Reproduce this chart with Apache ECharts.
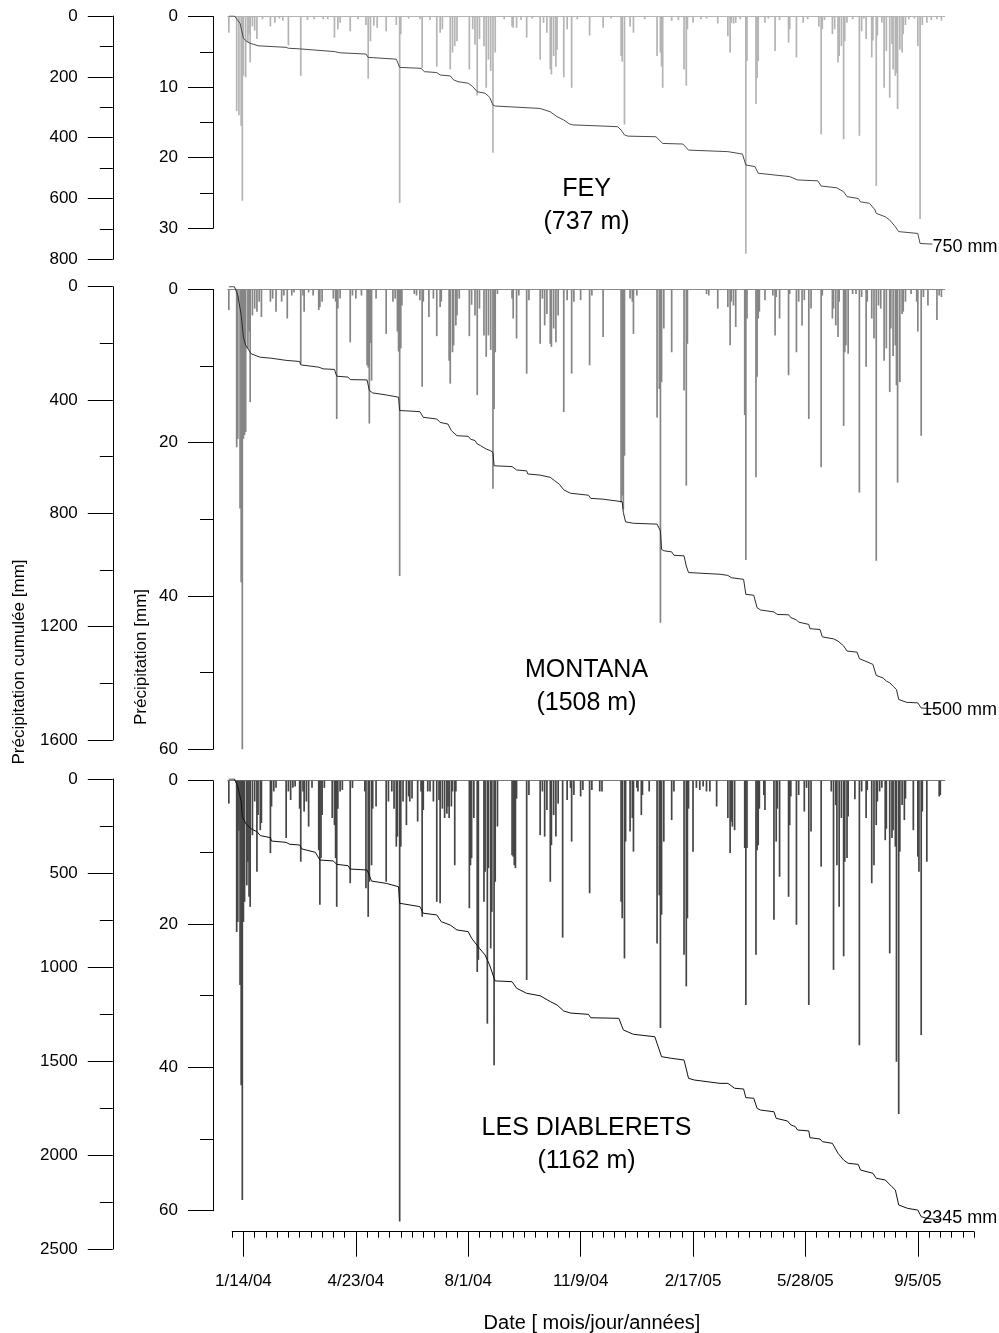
<!DOCTYPE html>
<html>
<head>
<meta charset="utf-8">
<script src="https://cdn.jsdelivr.net/npm/echarts@6/dist/echarts.min.js"></script>
<style>html,body{margin:0;padding:0;background:#fff}#c{width:999px;height:1333px}</style>
</head>
<body>
<div id="c"></div>
<script>
// Day index = days since 2004-01-01. Values in mm.
const feyBars = [[0,2.3],[7,13.4],[9,14.0],[11,15.5],[12,26.1],[13,8.4],[15,8.6],[17,3.6],[18,2.5],[19,6.5],[21,1.4],[23,2.0],[25,3.2],[30,0.4],[37,1.4],[41,0.9],[45,0.3],[48,0.6],[53,4.1],[64,8.4],[70,0.5],[76,0.4],[84,0.4],[88,0.4],[94,3.0],[97,1.8],[99,0.9],[108,2.1],[115,0.4],[122,1.2],[124,8.8],[126,3.5],[129,1.3],[132,1.6],[140,2.1],[149,1.2],[152,26.4],[153,2.5],[160,0.3],[170,0.4],[172,7.3],[179,0.5],[185,7.1],[188,2.3],[190,1.8],[197,7.5],[199,5.1],[201,4.2],[203,3.5],[214,7.5],[217,1.8],[219,4.0],[221,11.2],[223,3.2],[227,4.2],[229,10.1],[231,6.1],[233,7.7],[235,19.3],[237,5.1],[245,0.4],[252,1.4],[253,1.6],[256,1.6],[260,0.5],[265,3.0],[270,0.3],[277,6.1],[280,0.9],[283,2.3],[286,7.5],[287,8.2],[289,5.6],[291,7.1],[292,4.7],[298,8.6],[301,1.8],[305,10.1],[310,0.4],[321,2.7],[333,1.6],[340,0.3],[349,5.6],[350,6.4],[352,15.3],[357,1.4],[360,2.3],[370,0.4],[381,5.6],[384,5.1],[385,7.1],[386,10.1],[394,0.6],[400,0.5],[405,7.5],[407,9.8],[408,1.8],[413,0.9],[420,0.4],[425,0.3],[435,1.0],[444,2.8],[446,5.1],[447,0.9],[449,1.0],[451,0.9],[455,0.4],[460,33.6],[461,6.3],[469,12.4],[470,8.7],[471,6.3],[477,0.9],[480,0.3],[486,4.9],[490,0.5],[498,3.7],[499,1.8],[505,5.8],[511,0.9],[515,0.4],[525,1.4],[527,16.7],[528,1.8],[530,0.5],[537,2.5],[539,1.8],[542,6.5],[543,5.6],[545,4.2],[547,17.4],[548,3.5],[550,0.9],[555,0.4],[561,16.9],[563,2.1],[565,0.3],[567,3.2],[572,5.8],[573,3.4],[576,24.0],[577,2.7],[581,0.9],[583,10.1],[585,4.9],[588,11.5],[590,3.9],[591,7.5],[593,8.4],[594,8.0],[595,13.1],[597,4.7],[599,5.1],[600,2.5],[602,1.2],[605,0.4],[610,0.3],[613,4.2],[615,28.7],[617,1.2],[621,0.9],[625,0.5],[630,0.4],[634,0.6]];
const feyCumul = [[0,0],[5,0],[10,24],[13,73],[16,84],[19,90],[22,93],[26,98],[51,103],[53,106],[63,108],[64,114],[94,117],[99,121],[122,125],[124,136],[149,142],[152,169],[171,172],[174,183],[185,186],[188,194],[197,197],[200,210],[204,216],[213,221],[217,232],[221,249],[228,254],[232,267],[235,293],[237,296],[277,304],[286,315],[292,331],[298,342],[303,355],[306,358],[333,362],[346,364],[349,375],[352,391],[355,395],[380,397],[386,419],[404,421],[409,441],[444,446],[457,454],[460,490],[468,495],[471,517],[486,523],[499,528],[506,539],[524,542],[527,559],[541,565],[547,578],[550,594],[560,600],[562,611],[570,616],[575,638],[576,649],[584,660],[588,671],[593,693],[596,709],[613,715],[615,748],[626,750]];

const montanaBars = [[0,2.7],[7,20.6],[8,19.5],[10,28.6],[11,38.2],[12,60],[13,19.5],[14,19.0],[15,18.6],[17,7.7],[18,5.5],[19,14.7],[21,3.4],[23,2.5],[25,2.9],[27,1.6],[29,3.6],[37,1.6],[39,1.2],[42,2.9],[47,1.6],[49,0.8],[52,3.8],[56,0.8],[58,0.4],[64,9.7],[66,0.8],[67,2.9],[71,0.4],[75,0.8],[80,2.7],[81,2.3],[83,1.6],[93,1.2],[95,1.6],[96,16.9],[97,2.5],[99,1.2],[108,6.9],[110,0.8],[113,1.2],[118,0.8],[123,9.9],[124,10.2],[125,17.5],[126,7.0],[127,11.9],[131,1.2],[140,5.8],[146,1.6],[148,1.2],[150,5.5],[151,8.1],[152,37.4],[153,7.7],[154,2.1],[165,0.6],[167,0.8],[170,1.4],[172,12.7],[173,1.6],[178,3.6],[182,1.2],[185,6.1],[188,2.3],[189,1.6],[196,9.3],[197,12.3],[199,8.2],[200,7.3],[202,4.7],[203,3.4],[205,1.2],[214,6.1],[216,2.0],[219,3.4],[221,13.8],[223,2.5],[227,6.0],[229,8.8],[231,6.0],[233,7.9],[235,26.0],[236,15.6],[237,8.2],[239,0.6],[252,1.2],[253,3.8],[256,6.4],[258,0.8],[265,11.0],[267,1.4],[277,7.1],[279,1.2],[281,4.7],[283,3.2],[286,7.1],[287,7.5],[289,5.1],[291,6.9],[293,3.4],[298,16.0],[301,1.4],[305,11.0],[307,1.6],[313,1.4],[321,9.9],[323,0.8],[333,6.2],[349,27.8],[350,26.9],[351,28.7],[352,21.7],[357,1.2],[359,1.6],[360,5.8],[363,0.8],[381,16.7],[383,13.0],[384,43.5],[385,12.1],[387,5.1],[394,8.2],[405,13.2],[407,25.6],[408,7.1],[425,0.6],[427,0.8],[435,2.5],[444,2.3],[446,7.3],[447,1.6],[449,2.1],[451,4.9],[459,16.4],[460,35.3],[461,3.8],[469,24.5],[470,11.4],[471,3.8],[472,2.9],[477,1.4],[484,0.8],[486,6.0],[487,1.0],[490,3.8],[498,11.2],[499,0.6],[505,8.2],[507,1.6],[510,4.7],[512,1.4],[516,16.9],[518,2.5],[527,23.2],[528,0.8],[537,3.8],[538,2.5],[540,4.7],[542,6.2],[543,1.6],[547,17.8],[548,8.2],[549,7.3],[551,8.4],[555,0.6],[558,0.6],[561,26.5],[563,1.0],[567,10.1],[568,1.6],[572,3.8],[574,6.4],[576,35.4],[578,2.1],[580,2.5],[583,9.3],[585,7.7],[588,13.4],[589,5.1],[591,8.7],[593,7.3],[594,12.5],[595,25.2],[597,12.1],[599,3.2],[600,2.9],[602,1.6],[607,0.6],[612,1.6],[613,5.5],[616,19.1],[618,1.0],[622,2.1],[630,4.0],[632,0.8],[634,1.0]];
const montanaCumul = [[0,0],[5,0],[8,30],[11,101],[13,178],[15,207],[18,225],[20,237],[28,249],[37,252],[51,260],[63,264],[64,276],[80,284],[84,290],[94,292],[96,316],[106,319],[108,328],[123,329],[125,366],[128,375],[140,382],[151,390],[152,437],[170,441],[173,461],[185,467],[188,479],[195,485],[198,508],[203,526],[213,528],[215,538],[219,543],[221,555],[224,561],[229,573],[233,579],[235,585],[236,632],[252,635],[256,647],[265,650],[266,661],[277,665],[286,673],[290,685],[294,697],[298,717],[304,729],[320,736],[322,747],[333,750],[334,756],[350,759],[351,797],[353,830],[360,835],[381,838],[384,862],[385,927],[387,932],[394,936],[396,948],[405,950],[407,986],[409,1009],[437,1015],[444,1019],[447,1027],[458,1033],[460,1086],[467,1089],[470,1133],[473,1141],[485,1148],[488,1157],[498,1158],[500,1168],[505,1176],[507,1184],[516,1192],[517,1207],[526,1210],[528,1236],[538,1243],[542,1251],[547,1268],[550,1286],[559,1290],[561,1313],[566,1321],[573,1333],[576,1372],[582,1381],[585,1392],[588,1398],[591,1410],[594,1422],[596,1457],[603,1467],[613,1469],[616,1487],[630,1490]];

const diableretsBars = [[0,3.2],[7,21.1],[8,19.7],[9,7.0],[10,28.5],[11,42.5],[12,58.5],[13,19.7],[14,16.9],[16,14.6],[17,11.3],[18,16.2],[19,17.6],[21,7.6],[23,2.9],[25,12.7],[26,4.8],[28,6.9],[29,5.9],[37,10.1],[38,3.6],[40,1.5],[42,1.0],[51,8.0],[53,1.5],[55,2.7],[57,1.0],[59,0.8],[63,3.9],[64,11.3],[66,1.5],[67,4.3],[69,2.9],[71,6.4],[74,1.0],[80,9.7],[81,17.3],[82,10.8],[83,4.8],[85,1.0],[92,5.2],[94,6.2],[95,10.8],[96,17.6],[97,3.9],[99,1.5],[101,1.3],[108,14.3],[110,1.0],[121,1.5],[122,15.0],[124,19.0],[125,14.1],[127,11.8],[128,3.9],[131,3.6],[140,14.1],[142,2.9],[145,1.5],[147,3.9],[149,9.2],[150,7.8],[152,61.5],[153,9.2],[155,2.9],[158,6.2],[160,2.2],[161,2.9],[163,2.5],[168,5.7],[171,1.5],[172,19.0],[173,4.1],[177,1.5],[179,1.5],[182,2.9],[185,16.9],[187,2.7],[188,17.1],[190,3.9],[192,5.2],[194,4.6],[195,3.6],[196,5.2],[198,3.6],[199,1.5],[201,11.8],[202,1.5],[214,17.8],[215,11.8],[216,10.8],[218,5.2],[221,26.7],[222,25.0],[227,16.9],[228,12.7],[230,33.9],[231,12.2],[233,23.4],[234,18.3],[236,39.7],[237,14.1],[239,6.4],[252,10.4],[253,10.6],[254,11.8],[255,12.2],[256,2.5],[265,27.8],[267,2.0],[277,7.6],[279,1.5],[281,7.8],[283,4.1],[286,14.1],[287,9.0],[289,4.8],[291,7.8],[293,3.2],[297,21.9],[301,2.7],[304,1.0],[305,8.5],[307,2.0],[313,2.2],[315,1.3],[321,15.7],[323,1.3],[330,1.5],[332,1.5],[349,16.9],[350,19.2],[352,24.8],[353,8.5],[357,7.1],[359,5.2],[360,9.9],[363,1.0],[364,1.5],[367,4.8],[368,2.0],[374,1.5],[381,22.7],[383,16.0],[384,34.5],[385,18.7],[387,8.5],[394,5.5],[396,1.5],[405,24.3],[407,28.7],[408,19.2],[409,3.9],[413,9.9],[416,1.0],[419,1.3],[422,0.8],[425,1.5],[428,1.5],[434,3.6],[444,5.2],[446,10.1],[447,5.7],[448,6.4],[450,6.9],[459,9.4],[460,31.3],[461,9.4],[469,24.3],[470,9.7],[471,9.0],[472,3.9],[476,2.0],[477,4.1],[485,19.4],[487,8.5],[488,3.9],[490,13.4],[498,16.2],[499,6.2],[500,2.2],[505,20.1],[507,2.0],[512,4.3],[514,1.0],[516,31.3],[518,7.1],[527,12.0],[536,1.5],[538,26.4],[540,3.4],[541,11.8],[543,17.6],[545,5.2],[547,24.5],[548,11.3],[550,10.8],[551,5.0],[557,2.6],[561,36.9],[563,1.5],[567,5.2],[568,1.3],[572,14.3],[574,11.8],[576,6.2],[577,2.9],[579,1.5],[581,1.0],[584,8.3],[585,6.7],[588,24.1],[590,8.0],[591,6.9],[593,9.2],[594,39.2],[596,46.5],[597,9.9],[599,3.4],[601,5.5],[602,2.5],[609,6.9],[613,10.6],[614,12.7],[616,35.5],[617,4.3],[621,11.3],[632,2.2],[633,2.0]];
const diableretsCumul = [[0,0],[5,0],[8,41],[11,121],[12,200],[15,236],[20,266],[25,280],[28,301],[37,312],[38,330],[51,337],[54,347],[63,351],[65,372],[77,390],[81,431],[93,436],[96,454],[106,461],[108,479],[123,484],[127,543],[140,555],[151,573],[152,661],[170,679],[173,714],[185,723],[189,759],[197,777],[203,803],[213,812],[216,847],[223,901],[228,936],[232,989],[236,1060],[237,1074],[252,1078],[256,1113],[265,1140],[277,1153],[286,1184],[292,1202],[298,1234],[304,1245],[320,1252],[322,1270],[347,1273],[351,1335],[360,1358],[379,1371],[385,1477],[394,1486],[405,1495],[409,1592],[414,1601],[437,1619],[444,1619],[450,1645],[458,1649],[460,1695],[467,1698],[470,1752],[473,1761],[485,1770],[487,1805],[497,1819],[500,1840],[504,1849],[506,1867],[516,1872],[517,1908],[526,1915],[528,1929],[537,1938],[542,1991],[547,2027],[551,2044],[560,2050],[562,2080],[573,2097],[576,2124],[584,2133],[590,2169],[593,2186],[596,2266],[604,2284],[613,2293],[616,2328],[621,2337],[633,2345]];

// Date axis: days since 1/14/04 for the labelled ticks
const tickDays = [0, 100, 200, 300, 400, 500, 600];
const tickLabels = ['1/14/04', '4/23/04', '8/1/04', '11/9/04', '2/17/05', '5/28/05', '9/5/05'];
const stationNames = ['FEY\n(737 m)', 'MONTANA\n(1508 m)', 'LES DIABLERETS\n(1162 m)'];
const totalLabels = ['750 mm', '1500 mm', '2345 mm'];
const cumulMax = [800, 1600, 2500], cumulStep = [200, 400, 500];
const dailyMax = [30, 60, 60], dailyStep = [10, 20, 20];
const DAY_OF_TICK0 = 13; // 1/14/04 is day 13 since 2004-01-01

// ---------- layout / style ----------
const FONT = '"Liberation Sans", Arial, Helvetica, sans-serif';
const PANEL_LEFT = 227.7, PANEL_WIDTH = 717.1, XMIN = -1, XMAX = 637;
const OUTER_AXIS_X = 112.8, INNER_AXIS_X = 213;
const layout = [
  {outerTop: 16, outerH: 243.3, innerTop: 16.5, innerH: 211.8, bar: '#b4b4b4', top: '#b4b4b4', line: '#4a4a4a', titleY: 206, endOff: [0, 3]},
  {outerTop: 286.7, outerH: 453.3, innerTop: 289.4, innerH: 459.9, bar: '#858585', top: '#8a8a8a', line: '#2a2a2a', titleY: 687, endOff: [-15, 1]},
  {outerTop: 779, outerH: 470, innerTop: 780.7, innerH: 430, bar: '#454545', top: '#7a7a7a', line: '#111', titleY: 1144.5, endOff: [-18, -2]}
];

const grid = [], xAxis = [], yAxis = [], series = [], graphic = [];
const axisBlack = {lineStyle: {color: '#000', width: 1}};
layout.forEach((L, i) => {
  const go = grid.length;
  grid.push({left: PANEL_LEFT, width: PANEL_WIDTH, top: L.outerTop, height: L.outerH});
  grid.push({left: PANEL_LEFT, width: PANEL_WIDTH, top: L.innerTop, height: L.innerH});
  xAxis.push({type: 'value', gridIndex: go, min: XMIN, max: XMAX, show: false});
  xAxis.push({type: 'value', gridIndex: go + 1, min: XMIN, max: XMAX, position: 'top',
    axisLine: {show: true, onZero: false, lineStyle: {color: L.top, width: 1}},
    axisTick: {show: false}, axisLabel: {show: false}, splitLine: {show: false}});
  const yCommon = {type: 'value', inverse: true, position: 'left',
    axisLine: Object.assign({show: true, onZero: false}, axisBlack),
    axisTick: Object.assign({show: true, length: 25}, axisBlack),
    minorTick: {show: true, splitNumber: 2, length: 13, lineStyle: {color: '#000', width: 1}},
    splitLine: {show: false}, minorSplitLine: {show: false},
    axisLabel: {margin: 35, color: '#000', fontSize: 17, fontFamily: FONT, formatter: v => String(v)}};
  yAxis.push(Object.assign({}, yCommon, {gridIndex: go, min: 0, max: cumulMax[i], interval: cumulStep[i], offset: PANEL_LEFT - OUTER_AXIS_X}));
  yAxis.push(Object.assign({}, yCommon, {gridIndex: go + 1, min: 0, max: dailyMax[i], interval: dailyStep[i], offset: PANEL_LEFT - INNER_AXIS_X}));
  const bars = [feyBars, montanaBars, diableretsBars][i];
  const cum = [feyCumul, montanaCumul, diableretsCumul][i];
  series.push({type: 'bar', xAxisIndex: go + 1, yAxisIndex: go + 1, data: bars, barWidth: 1.7, clip: false,
    itemStyle: {color: L.bar}, z: 2, silent: true});
  series.push({type: 'line', xAxisIndex: go, yAxisIndex: go, data: cum, showSymbol: false, symbol: 'none',
    lineStyle: {color: L.line, width: 1}, z: 3, silent: true,
    endLabel: {show: true, formatter: totalLabels[i], distance: 0, offset: L.endOff, color: '#000', fontSize: 18, fontFamily: FONT}});
  graphic.push({type: 'text', x: 586.5, y: L.titleY, style: {text: stationNames[i], align: 'center', verticalAlign: 'middle', fontSize: 25, lineHeight: 33, fontFamily: FONT, fill: '#000'}});
});

// Date axis (two grids: minor 10-day ticks, major labelled 100-day ticks)
const PX_DAY = PANEL_WIDTH / (XMAX - XMIN);
const xOfDay = d => PANEL_LEFT + (d - XMIN) * PX_DAY;
const gMinor = grid.length;
grid.push({left: xOfDay(DAY_OF_TICK0 - 10), width: 660 * PX_DAY, top: 1200, height: 31.7});
grid.push({left: xOfDay(DAY_OF_TICK0), width: 600 * PX_DAY, top: 1200, height: 31.7});
xAxis.push({type: 'value', gridIndex: gMinor, min: -10, max: 650, interval: 10, position: 'bottom',
  axisLine: Object.assign({show: true, onZero: false}, axisBlack),
  axisTick: Object.assign({show: true, length: 6}, axisBlack), axisLabel: {show: false}, splitLine: {show: false}});
xAxis.push({type: 'value', gridIndex: gMinor + 1, min: tickDays[0], max: tickDays[tickDays.length - 1], interval: 100, position: 'bottom',
  axisLine: {show: false, onZero: false},
  axisTick: Object.assign({show: true, length: 25}, axisBlack),
  axisLabel: {show: true, margin: 41, color: '#000', fontSize: 17, fontFamily: FONT,
    formatter: v => tickLabels[tickDays.indexOf(v)] || ''},
  splitLine: {show: false}});
yAxis.push({type: 'value', gridIndex: gMinor, show: false});
yAxis.push({type: 'value', gridIndex: gMinor + 1, show: false});

graphic.push({type: 'text', x: 592, y: 1323, style: {text: 'Date [ mois/jour/années]', align: 'center', verticalAlign: 'middle', fontSize: 20, fontFamily: FONT, fill: '#000'}});
graphic.push({type: 'text', x: 19, y: 662, rotation: Math.PI / 2, style: {text: 'Précipitation cumulée [mm]', align: 'center', verticalAlign: 'middle', fontSize: 17, fontFamily: FONT, fill: '#000'}});
graphic.push({type: 'text', x: 141, y: 657, rotation: Math.PI / 2, style: {text: 'Précipitation [mm]', align: 'center', verticalAlign: 'middle', fontSize: 17, fontFamily: FONT, fill: '#000'}});

const chart = echarts.init(document.getElementById('c'), null, {renderer: 'canvas'});
chart.setOption({animation: false, backgroundColor: '#fff', grid, xAxis, yAxis, series, graphic});
</script>
</body>
</html>
